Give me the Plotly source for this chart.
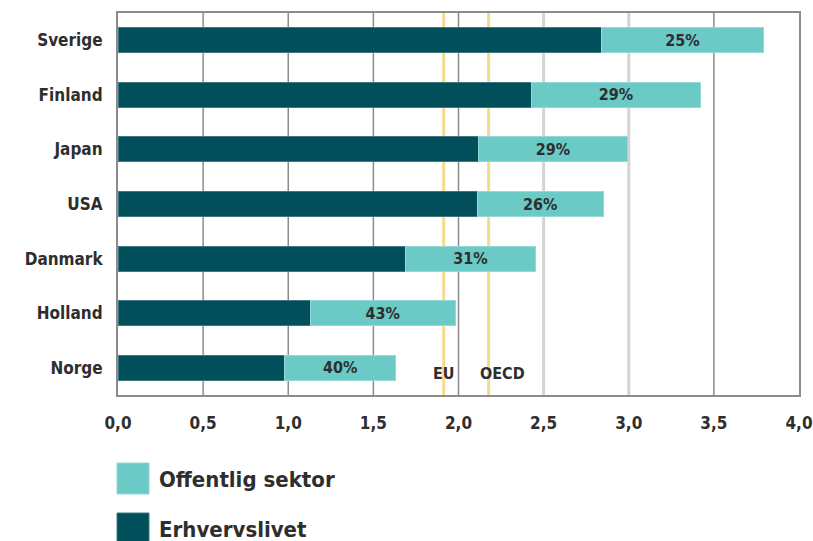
import plotly.graph_objects as go

# FoU-udgifter i pct. af BNP, fordelt på finansieringskilde
countries = ["Sverige", "Finland", "Japan", "USA", "Danmark", "Holland", "Norge"]
erhverv = [2.84, 2.43, 2.12, 2.11, 1.69, 1.13, 0.98]
offentlig = [0.95, 0.99, 0.87, 0.74, 0.76, 0.85, 0.65]

ref_names = ["EU", "OECD"]
ref_values = [1.913, 2.177]
ref_label_x = [1.913, 2.26]

x_ticks = [0.0, 0.5, 1.0, 1.5, 2.0, 2.5, 3.0, 3.5, 4.0]
light_grid = [2.5, 3.0]

DARK = "#004f5a"
LIGHT = "#6bc9c6"
TEXT = "#2e2e2e"
FONT = "DejaVu Sans Condensed"

shares = [o / (e + o) for e, o in zip(erhverv, offentlig)]
pct_labels = [f"{round(s * 100):d}%" for s in shares]

fig = go.Figure()
fig.add_trace(go.Bar(
    y=countries, x=erhverv, orientation="h", name="Erhvervslivet",
    marker=dict(color=DARK, line=dict(color="#3d7a83", width=1)),
    width=0.46, showlegend=False,
))
fig.add_trace(go.Bar(
    y=countries, x=offentlig, orientation="h", name="Offentlig sektor",
    marker=dict(color=LIGHT, line=dict(color="#92d9d7", width=1)),
    width=0.46, showlegend=False,
    text=pct_labels, textposition="inside", insidetextanchor="middle",
    textfont=dict(family=FONT, size=16, color=TEXT, weight="bold"),
))

shapes = []
# gridlines
for v in x_ticks[1:-1]:
    light = v in light_grid
    shapes.append(dict(
        type="line", xref="x", yref="paper", x0=v, x1=v, y0=0, y1=1,
        line=dict(color="#d6d4cf" if light else "#8c8c8c", width=3 if light else 1.5),
        layer="below",
    ))
# EU / OECD averages
for v in ref_values:
    shapes.append(dict(
        type="line", xref="x", yref="paper", x0=v, x1=v, y0=0, y1=1,
        line=dict(color="#f6da8e", width=3), layer="below",
    ))

# legend swatches
legend_items = [("Offentlig sektor", LIGHT, "#92d9d7"), ("Erhvervslivet", DARK, "#3d7a83")]
annotations = []
for i, (name, col, edge) in enumerate(legend_items):
    y_top = 463 + i * 50
    shapes.append(dict(
        type="rect", xref="paper", yref="paper",
        x0=(117 - 118) / 681, x1=(149 - 118) / 681,
        y0=(395 - y_top) / 382, y1=(395 - (y_top + 31)) / 382,
        fillcolor=col, line=dict(color=edge, width=1),
    ))
    annotations.append(dict(
        xref="paper", yref="paper", x=(157 - 118) / 681, y=(395 - (y_top + 16)) / 382,
        text=name, showarrow=False, xanchor="left", yanchor="middle",
        font=dict(family=FONT, size=22, color=TEXT, weight="bold"),
    ))

for name, xv in zip(ref_names, ref_label_x):
    annotations.append(dict(
        xref="x", yref="paper", x=xv, y=(395 - 373) / 382, text=name,
        showarrow=False, xanchor="center", yanchor="middle",
        font=dict(family=FONT, size=16, color=TEXT, weight="bold"),
    ))

fig.update_layout(
    width=813, height=541,
    margin=dict(l=118, r=14, t=13, b=146),
    paper_bgcolor="white", plot_bgcolor="white",
    barmode="stack", bargap=0.54,
    separators=",.",
    shapes=shapes, annotations=annotations,
    xaxis=dict(
        range=[0, 4], tickvals=x_ticks, tickformat=".1f",
        showgrid=False, zeroline=False, automargin=False,
        showline=True, linecolor="#8c8c8c", linewidth=2, mirror=True,
        ticks="outside", ticklen=12, tickcolor="rgba(0,0,0,0)",
        tickfont=dict(family=FONT, size=17, color=TEXT, weight="bold"),
    ),
    yaxis=dict(
        categoryorder="array", categoryarray=countries[::-1],
        showgrid=False, zeroline=False, automargin=False,
        showline=True, linecolor="#8c8c8c", linewidth=2, mirror=True,
        ticks="outside", ticklen=10, tickcolor="rgba(0,0,0,0)",
        tickfont=dict(family=FONT, size=17, color=TEXT, weight="bold"),
    ),
)

fig.write_html("out.html")
